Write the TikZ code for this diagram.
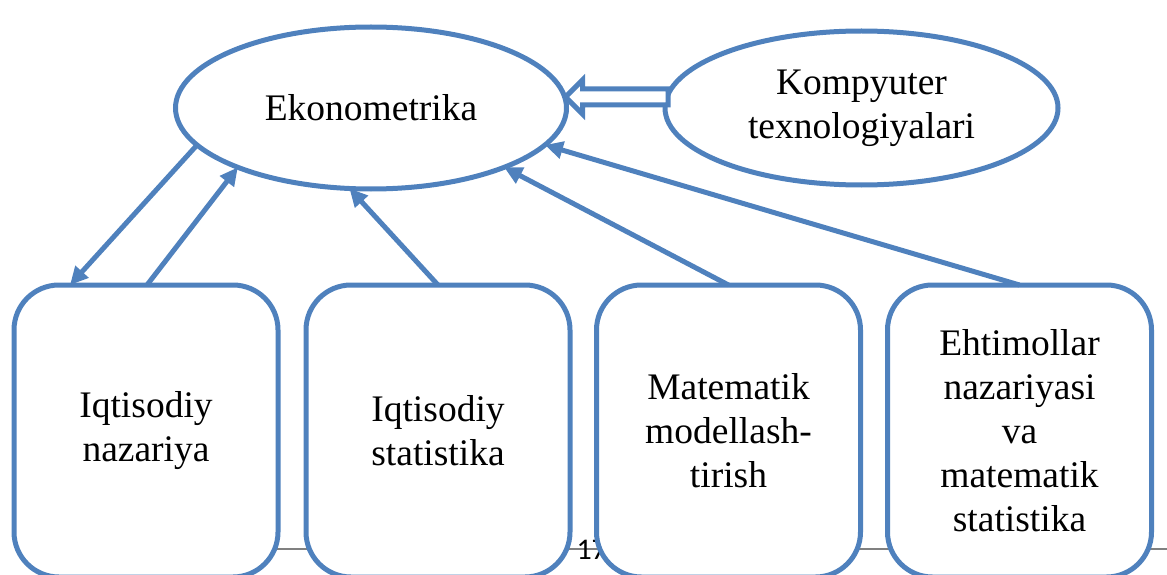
\documentclass[tikz,border=0pt]{standalone}
\usepackage{fontspec}
\setmainfont{Liberation Serif}
\newfontfamily\pagefont{Carlito}
\usetikzlibrary{arrows.meta,shapes.geometric,calc}
\definecolor{wordblue}{RGB}{79,129,189}
\tikzset{every picture/.style={line width=5pt}}
\tikzset{
  topic/.style={ellipse, draw=wordblue, line width=5pt, fill=white, minimum width=391pt, minimum height=162pt,
    inner sep=0pt, outer sep=0pt, align=center, font=\fontsize{37.5}{44}\selectfont},
  field/.style={rectangle, rounded corners=45pt, draw=wordblue, line width=5pt, fill=white, minimum width=264pt,
    minimum height=292pt, inner sep=0pt, outer sep=0pt, align=center, font=\fontsize{37.5}{44}\selectfont},
  link/.style={draw=wordblue, line width=5pt, -{Triangle[length=18pt,width=17pt]}},
  hollowarrow/.style={draw=wordblue, line width=5pt, fill=white, line join=miter},
  pagerule/.style={draw={rgb,255:red,128;green,128;blue,128}, line width=2.5pt}
}

\begin{document}
\begin{tikzpicture}[x=1pt,y=-1pt]
        \useasboundingbox (0,0) rectangle (1167,575);

        %Footer line and page number
        \draw[pagerule] (20,549) -- (1167,549);
        \node[anchor=base west, inner sep=0pt, font=\pagefont\fontsize{30}{30}\selectfont] (pagenr) at (574,559) {17};

        %Shape: Ellipse
        \node[topic] (eko) at (371,108) {Ekonometrika};
        \node[topic, minimum width=393pt, minimum height=154pt] (komp) at (861.5,108) {Kompyuter\\texnologiyalari};

        %Shape: Rounded Rectangles
        \node[field] (nazariya) at (146,431) {Iqtisodiy\\nazariya};
        \node[field] (statistika) at (438,431) {Iqtisodiy\\statistika};
        \node[field] (modellash) at (728.5,431) {Matematik\\modellash-\\tirish};
        \node[field] (ehtimol) at (1019.5,431) {Ehtimollar\\nazariyasi\\va\\matematik\\statistika};

        %Straight Lines
        \draw[link] (eko.192) -- ($(nazariya.north)+(-76,0)$);
        \draw[link] ($(nazariya.north)+(1,0)$) -- (eko.204);
        \draw[link] (statistika.north) -- (eko.255);
        \draw[link] (modellash.north) -- (eko.336);
        \draw[link] (ehtimol.north) -- (eko.348);

        %Block Arrow
        \draw[hollowarrow] ($(komp.west)+(3,-19)$) -- ($(eko.east)+(16,-19)$) -- ($(eko.east)+(16,-28)$)
          -- ($(eko.east)+(-1,-11)$) -- ($(eko.east)+(16,6)$) -- ($(eko.east)+(16,-3)$) -- ($(komp.west)+(3,-3)$) -- cycle;

\end{tikzpicture}
\end{document}
